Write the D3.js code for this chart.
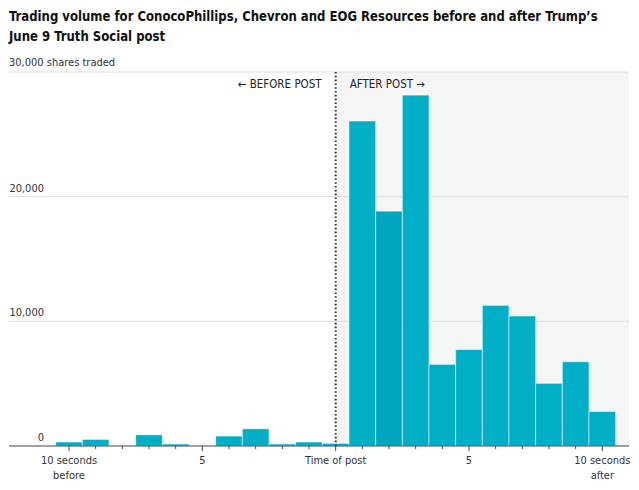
<!DOCTYPE html>
<html>
<head>
<meta charset="utf-8">
<script src="https://cdn.jsdelivr.net/npm/d3@7"></script>
<style>
  html, body { margin: 0; padding: 0; background: #fff; }
  svg { display: block; font-family: "DejaVu Sans Condensed", "DejaVu Sans", sans-serif; }
</style>
</head>
<body>
<svg id="chart" width="639" height="490"></svg>
<script>
// ---- data ----
const titleLines = [
  "Trading volume for ConocoPhillips, Chevron and EOG Resources before and after Trump’s",
  "June 9 Truth Social post"
];
const unitLabel = "30,000 shares traded";
const seconds = [-10, -9, -8, -7, -6, -5, -4, -3, -2, -1, 0, 1, 2, 3, 4, 5, 6, 7, 8, 9, 10];
const volume  = [320, 530, 0, 900, 160, 0, 800, 1380, 160, 320, 210,
                 26070, 18840, 28150, 6550, 7740, 11280, 10430, 5030, 6760, 2770];
const yTicks = [0, 10000, 20000, 30000];
const xMajor = [-10, -5, 0, 5, 10];
const xMajorLabels = [["10 seconds", "before"], ["5"], ["Time of post"], ["5"], ["10 seconds", "after"]];
const highlightSecond = 2;

// ---- layout ----
const svg = d3.select("#chart");
const plotL = 9, plotR = 629, plotT = 72, base = 446;
const x = d3.scaleLinear().domain([-12.25, 11]).range([plotL, plotR]);
const y = d3.scaleLinear().domain([0, 30000]).range([base, plotT]);
const ink = "#222";

// 标题（窄体字近似：整行横向压到参考宽度）
const titleWidth = 589;
const tg = svg.append("g");
const tt = tg.selectAll("text").data(titleLines).join("text")
  .attr("x", 0).attr("y", (d, i) => 21 + i * 20)
  .attr("fill", "#111").style("font-size", "14.5px").style("font-weight", "bold")
  .text((d) => d);
const sx = titleWidth / tt.node().getComputedTextLength();
tg.attr("transform", `translate(${plotL},0) scale(${sx},1)`);

// 盘后阴影区
svg.append("rect").attr("x", x(0)).attr("y", plotT)
  .attr("width", plotR - x(0)).attr("height", base - plotT).attr("fill", "#f4f5f5");

// 网格 + y 标签
const gy = svg.append("g").selectAll("g").data(yTicks).join("g");
gy.filter((d) => d > 0).append("line")
  .attr("x1", plotL).attr("x2", plotR).attr("y1", (d) => y(d)).attr("y2", (d) => y(d))
  .attr("stroke", "#dedede").attr("stroke-width", 1);
gy.filter((d) => d < 30000).append("text")
  .attr("x", 44).attr("y", (d) => y(d) - 5).attr("text-anchor", "end")
  .attr("fill", "#333").style("font-size", "11px").text((d) => d3.format(",")(d));
svg.append("text").attr("x", plotL).attr("y", y(30000) - 6)
  .attr("fill", "#333").style("font-size", "11px").text(unitLabel);

// 柱
const bw = x(1) - x(0);
svg.append("g").selectAll("rect").data(seconds).join("rect")
  .attr("x", (d) => x(d) - bw / 2).attr("width", bw)
  .attr("y", (d, i) => y(volume[i])).attr("height", (d, i) => base - y(volume[i]))
  .attr("fill", (d) => d === highlightSecond ? "#00a6be" : "#00aec6")
  .attr("stroke", "#fff").attr("stroke-opacity", 0.55).attr("stroke-width", 1);

// 发帖时刻虚线
svg.append("line").attr("x1", x(0)).attr("x2", x(0)).attr("y1", plotT).attr("y2", base)
  .attr("stroke", "#333").attr("stroke-width", 2).attr("stroke-dasharray", "1.6,2.2");

svg.append("text").attr("x", x(0) - 14).attr("y", 88).attr("text-anchor", "end")
  .attr("fill", ink).style("font-size", "11.5px").text("← BEFORE POST");
svg.append("text").attr("x", x(0) + 14).attr("y", 88)
  .attr("fill", ink).style("font-size", "11.5px").text("AFTER POST →");

// x 轴
svg.append("line").attr("x1", plotL).attr("x2", plotR).attr("y1", base).attr("y2", base)
  .attr("stroke", "#444").attr("stroke-width", 1.2);
svg.append("g").selectAll("line").data(seconds).join("line")
  .attr("x1", (d) => x(d)).attr("x2", (d) => x(d))
  .attr("y1", base).attr("y2", (d) => base + (xMajor.includes(d) ? 5 : 3))
  .attr("stroke", "#444").attr("stroke-width", 1);
const gl = svg.append("g").selectAll("text").data(xMajor).join("text")
  .attr("x", (d) => x(d)).attr("y", 464).attr("text-anchor", "middle")
  .attr("fill", "#333").style("font-size", "11px");
gl.selectAll("tspan").data((d, i) => xMajorLabels[i]).join("tspan")
  .attr("x", function () { return this.parentNode.getAttribute("x"); })
  .attr("dy", (d, i) => i === 0 ? 0 : 15).text((d) => d);
</script>
</body>
</html>
